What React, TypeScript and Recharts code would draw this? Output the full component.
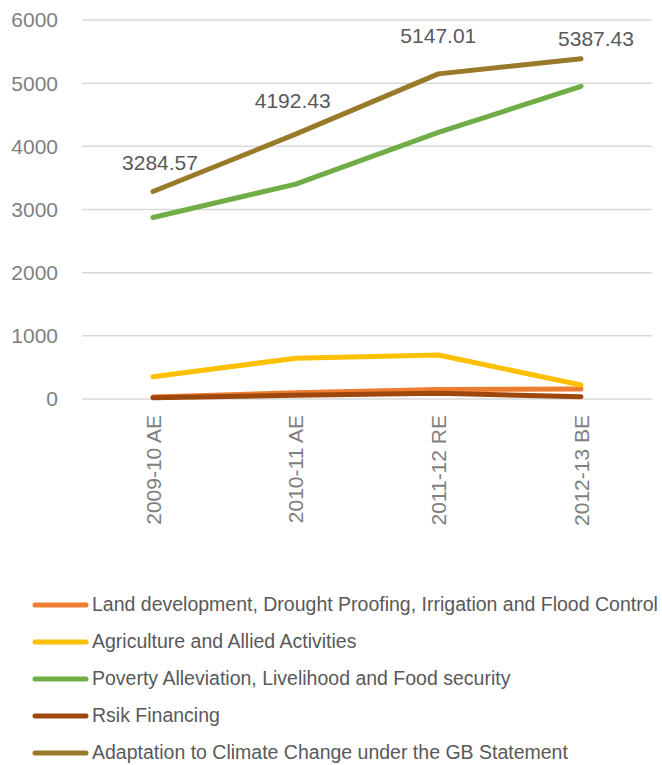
import React from 'react';
import { LineChart, Line, XAxis, YAxis, CartesianGrid, Legend, LabelList } from 'recharts';

const categories = ['2009-10 AE', '2010-11 AE', '2011-12 RE', '2012-13 BE'];
const landDevelopment = [30, 100, 150, 160];
const agriculture = [353, 645, 697, 222];
const poverty = [2873, 3402, 4220, 4950];
const riskFinancing = [20, 60, 90, 35];
const adaptation = [3284.57, 4192.43, 5147.01, 5387.43];
const yTicks = [0, 1000, 2000, 3000, 4000, 5000, 6000];

const seriesInfo = [
  { key: 'land', name: 'Land development, Drought Proofing, Irrigation and Flood Control', color: '#ED7D31', values: landDevelopment },
  { key: 'agri', name: 'Agriculture and Allied Activities', color: '#FFC000', values: agriculture },
  { key: 'pov', name: 'Poverty Alleviation, Livelihood and Food security', color: '#70AD47', values: poverty },
  { key: 'risk', name: 'Rsik Financing', color: '#9E480E', values: riskFinancing },
  { key: 'adapt', name: 'Adaptation to Climate Change under the GB Statement', color: '#997A2A', values: adaptation },
];

const data = categories.map((c, i) => {
  const row: any = { category: c };
  seriesInfo.forEach((s) => { row[s.key] = s.values[i]; });
  return row;
});

const FONT = '"Liberation Sans", Arial, sans-serif';
const labelOffsets = [[7, -29], [-3, -34], [0, -38], [15, -20]];

const XTick = (props: any) => {
  const { x, y, payload } = props;
  return (
    <g transform={`translate(${x},${y + 16})`}>
      <text transform="rotate(-90)" textAnchor="end" dominantBaseline="central" fill="#7f7f7f" fontSize={21} fontFamily={FONT}>
        {payload.value}
      </text>
    </g>
  );
};

const AdaptLabel = (p: any) => {
  const off = labelOffsets[p.index] || [0, -30];
  return (
    <text x={p.x + off[0]} y={p.y + off[1]} textAnchor="middle" dominantBaseline="central" fill="#595959" fontSize={21} fontFamily={FONT}>
      {p.value}
    </text>
  );
};

const LegendContent = () => (
  <div style={{ height: 185, width: 662, overflow: 'hidden', fontFamily: FONT }}>
    {seriesInfo.map((s) => (
      <div key={s.key} style={{ height: 37, display: 'flex', alignItems: 'center', whiteSpace: 'nowrap' }}>
        <svg width={90} height={10} style={{ flex: 'none' }}>
          <line x1={35} y1={5} x2={86} y2={5} stroke={s.color} strokeWidth={5} strokeLinecap="round" />
        </svg>
        <span style={{ fontSize: 19.5, color: '#595959', marginLeft: 2 }}>{s.name}</span>
      </div>
    ))}
  </div>
);

export default function App() {
  return (
    <div style={{ position: 'absolute', left: 0, top: 0, width: 662, height: 765, background: '#fff' }}>
      <LineChart width={662} height={765} data={data} margin={{ top: 20, right: 10, left: 0, bottom: 0 }}>
        <CartesianGrid vertical={false} stroke="#d9d9d9" strokeWidth={1.5} />
        <XAxis
          dataKey="category"
          axisLine={false}
          tickLine={false}
          tickSize={0}
          tickMargin={0}
          height={181}
          interval={0}
          padding={{ left: 71, right: 71 }}
          tick={<XTick />}
        />
        <YAxis
          domain={[0, 6000]}
          ticks={yTicks}
          axisLine={false}
          tickLine={false}
          tickSize={0}
          tickMargin={24}
          width={82}
          tick={{ fill: '#7f7f7f', fontSize: 21, fontFamily: FONT }}
        />
        <Legend verticalAlign="bottom" layout="horizontal" content={<LegendContent />} wrapperStyle={{ left: 0, bottom: -6, width: 662 }} />
        {seriesInfo.map((s) => (
          <Line
            key={s.key}
            type="linear"
            dataKey={s.key}
            name={s.name}
            stroke={s.color}
            strokeWidth={5}
            strokeLinecap="round"
            strokeLinejoin="round"
            dot={false}
            activeDot={false}
            isAnimationActive={false}
          >
            {s.key === 'adapt' ? <LabelList dataKey={s.key} content={<AdaptLabel />} /> : null}
          </Line>
        ))}
      </LineChart>
    </div>
  );
}
